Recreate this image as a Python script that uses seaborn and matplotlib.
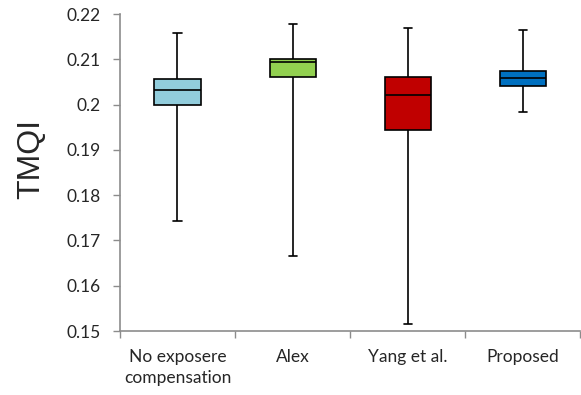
import pandas as pd
import seaborn as sns
import matplotlib.pyplot as plt

# Methods and their five-number summaries
methods = ['No exposere\ncompensation', 'Alex', 'Yang et al.', 'Proposed']
whisker_low = [0.1742, 0.1666, 0.1516, 0.1983]
q1 = [0.1998, 0.2062, 0.1943, 0.2040]
median = [0.2032, 0.2095, 0.2022, 0.2059]
q3 = [0.2056, 0.2101, 0.2062, 0.2074]
whisker_high = [0.2157, 0.2178, 0.2169, 0.2165]
colors = ['#92CDDC', '#92D050', '#C00000', '#0070C0']
yticks = [0.15, 0.16, 0.17, 0.18, 0.19, 0.2, 0.21, 0.22]
ytick_labels = ['0.15', '0.16', '0.17', '0.18', '0.19', '0.2', '0.21', '0.22']

# five points per method reproduce the summary with whis=(0, 100)
rows = []
for i, m in enumerate(methods):
    for v in [whisker_low[i], q1[i], median[i], q3[i], whisker_high[i]]:
        rows.append({'method': m, 'TMQI': v})
df = pd.DataFrame(rows)

sns.set_style('white')
fig = plt.figure(figsize=(5.81, 3.95), dpi=100)
ax = fig.add_axes([0.2065, 0.162, 0.792, 0.8025])

sns.boxplot(data=df, x='method', y='TMQI', hue='method', palette=colors,
            order=methods, whis=(0, 100), width=0.4, linecolor='black',
            linewidth=1.2, capwidths=0.07, saturation=1, legend=False, ax=ax)

ax.set_ylim(0.15, 0.22)
ax.set_yticks(yticks)
ax.set_yticklabels(ytick_labels, fontsize=12.5, family='Lato')
ax.set_xlim(-0.5, 3.5)
ax.set_xticks([-0.5, 0.5, 1.5, 2.5, 3.5])
ax.set_xticklabels([])
ax.set_xticks([0, 1, 2, 3], minor=True)
ax.set_xticklabels(methods, minor=True, fontsize=12.5, family='Lato',
                   linespacing=1.35)
ax.tick_params(axis='both', which='major', length=5, width=1, color='#8C8C8C',
               direction='out', left=True, bottom=True)
ax.tick_params(axis='x', which='minor', length=0, pad=13, bottom=True)
ax.tick_params(axis='y', pad=9)

for s in ['top', 'right']:
    ax.spines[s].set_visible(False)
for s in ['left', 'bottom']:
    ax.spines[s].set_color('#8C8C8C')
    ax.spines[s].set_linewidth(1.2)

ax.set_xlabel('')
ax.set_ylabel('')
fig.text(31.5 / 581, 1 - 159 / 395, 'TMQI', fontsize=23, family='Liberation Sans',
         rotation=90, ha='center', va='center')

fig.savefig('out.png', dpi=100)
